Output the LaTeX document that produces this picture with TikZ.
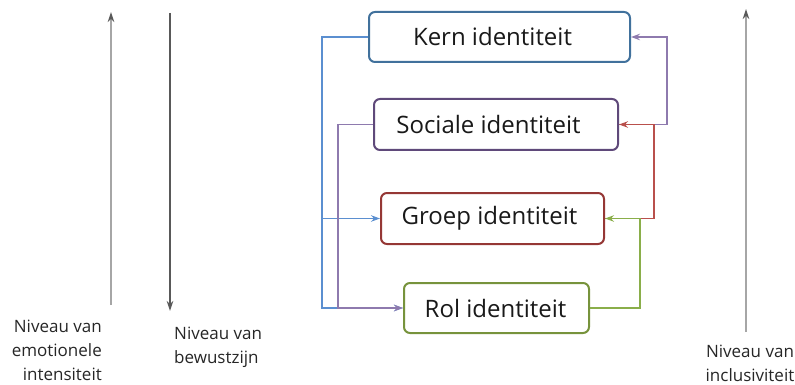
\documentclass[tikz,border=0pt]{standalone}
\usepackage{fontspec}
\setmainfont{Open Sans}
\usetikzlibrary{arrows.meta}
\definecolor{cblue}{HTML}{41719C}
\definecolor{lblue}{HTML}{5B8FD0}
\definecolor{cpurp}{HTML}{5F497A}
\definecolor{lpurp}{HTML}{8E7AAE}
\definecolor{cred}{HTML}{953735}
\definecolor{lred}{HTML}{B9504C}
\definecolor{cgreen}{HTML}{77933C}
\definecolor{lgreen}{HTML}{8AAE4A}
\definecolor{lgray}{HTML}{A6A6A6}
\definecolor{dgray}{HTML}{595959}
\tikzset{
  idbox/.style={draw, line width=2pt, rounded corners=6pt, fill=white, inner sep=0pt,
    font=\fontsize{24}{28}\selectfont, text=black!90},
  conn/.style={line width=1.2pt, -{Stealth[length=9pt,width=6.5pt]}},
  axis/.style={line width=1.3pt, -{Stealth[length=10pt,width=6.5pt]}},
  gaxis/.style={line width=1.3pt, -{Stealth[length=10pt,width=6.5pt,color=dgray]}},
  lbl/.style={font=\fontsize{17}{24}\selectfont, text=black!85, inner sep=0pt},
}
\begin{document}
\begin{tikzpicture}[x=1pt,y=-1pt]
\useasboundingbox (0,0) rectangle (795,385);
% boxes
\node[idbox, draw=cblue, minimum width=261pt, minimum height=50pt] (kern) at (499.5,37) {Kern identiteit\hspace*{14pt}};
\node[idbox, draw=cpurp, minimum width=244pt, minimum height=51pt] (soc) at (496,124.5) {Sociale identiteit\hspace*{15pt}};
\node[idbox, draw=cred, minimum width=223pt, minimum height=51pt] (groep) at (492.5,218.5) {Groep identiteit\hspace*{6pt}};
\node[idbox, draw=cgreen, minimum width=185pt, minimum height=50pt] (rol) at (496.5,308) {Rol identiteit\hspace*{2pt}};
% left connectors
\draw[conn, lblue] (kern.west) -| (322,218.5) -- (groep.west);
\draw[conn, lblue] (322,218.5) |- (rol.west);
\draw[conn, lpurp] (soc.west) -| (338,308) -- (rol.west);
% right connectors
\draw[conn, lpurp] (soc.east) -- (667,124.5) |- (kern.east);
\draw[conn, lred] (groep.east) -- (654,218.5) |- (soc.east);
\draw[conn, lgreen] (rol.east) -| (640,218.5) -- (groep.east);
% axes
\coordinate (a1s) at (111,305);
\coordinate (a1e) at (111,12);
\coordinate (a2s) at (170,13);
\coordinate (a2e) at (170,311);
\coordinate (a3s) at (746,332);
\coordinate (a3e) at (746,9);
\draw[gaxis, lgray] (a1s) -- (a1e);
\draw[axis, dgray] (a2s) -- (a2e);
\draw[gaxis, lgray] (a3s) -- (a3e);
% labels
\node[lbl, align=right, anchor=north east] (l1) at (102,320) {Niveau van\\emotionele\\intensiteit};
\node[lbl, align=left, anchor=north west] (l2) at (174,327) {Niveau van\\bewustzijn};
\node[lbl, align=center, anchor=north] (l3) at (750,345) {Niveau van\\inclusiviteit};
\end{tikzpicture}
\end{document}
